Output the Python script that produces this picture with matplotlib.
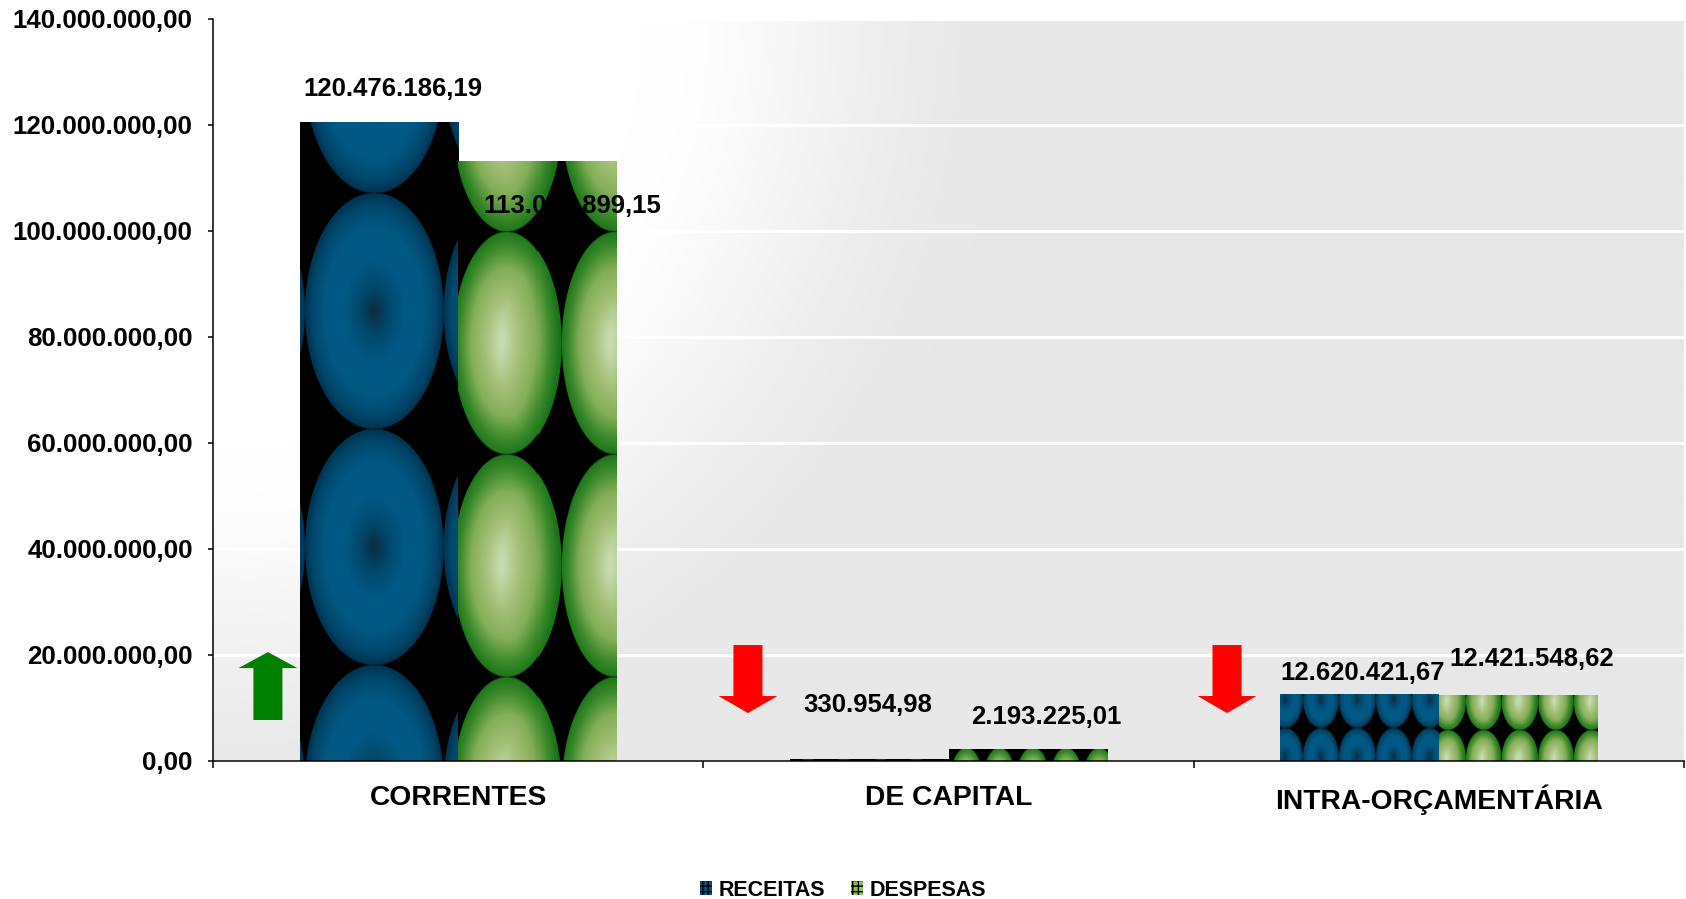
import numpy as np
import matplotlib
matplotlib.use('Agg')
import matplotlib.pyplot as plt
from matplotlib.patches import Polygon, Patch
from matplotlib.ticker import FuncFormatter

# ---------------- data ----------------
categories = ['CORRENTES', 'DE CAPITAL', 'INTRA-ORÇAMENTÁRIA']
series_names = ['RECEITAS', 'DESPESAS']
receitas = [120476186.19, 330954.98, 12620421.67]
despesas = [113048899.15, 2193225.01, 12421548.62]
yticks = [0, 20e6, 40e6, 60e6, 80e6, 100e6, 120e6, 140e6]


def fmt_br(v, pos=None):
    s = f"{v:,.2f}"
    return s.replace(',', 'X').replace('.', ',').replace('X', '.')


plt.rcParams['font.family'] = ['Liberation Sans', 'DejaVu Sans']
plt.rcParams['font.weight'] = 'bold'

W, H = 1686, 899
fig = plt.figure(figsize=(W / 100, H / 100), dpi=100)
ax_l, ax_r, ax_b, ax_t = 213, 1684, 761, 18.5
ax = fig.add_axes([ax_l / W, (H - ax_b) / H, (ax_r - ax_l) / W, (ax_b - ax_t) / H])
ax.set_xlim(-0.5, 2.5)
ax.set_ylim(0, 140e6)

# ------------- background gradient (white top-left -> light gray) -------------
aw, ah = int(ax_r - ax_l), int(ax_b - ax_t)
yy, xx = np.mgrid[0:ah, 0:aw]
d = np.hypot(xx, yy * 1.0)
t = np.clip((d - 430) / 360, 0, 1)
t = t * t * (3 - 2 * t)
g = 1 - t * (1 - 232 / 255)
bg = np.dstack([g, g, g])
ax.imshow(bg, extent=(0, 1, 0, 1), transform=ax.transAxes, origin='upper',
          aspect='auto', zorder=0, interpolation='bilinear')

# ---------------- bars ----------------
bw = 0.323
x = np.arange(len(categories))
bars_r = ax.bar(x - bw / 2, receitas, bw, color='black', linewidth=0, zorder=2)
bars_d = ax.bar(x + bw / 2, despesas, bw, color='black', linewidth=0, zorder=2)
ax.set_xlim(-0.5, 2.5)
ax.set_ylim(0, 140e6)

BLUE_STOPS = [0.0, 0.2, 0.45, 0.72, 0.9, 1.0]
BLUE_COLS = np.array([[0x0c, 0x2c, 0x40], [0x00, 0x48, 0x6c], [0x00, 0x5a, 0x86],
                      [0x00, 0x58, 0x83], [0x00, 0x46, 0x6a], [0x00, 0x32, 0x4e]]) / 255
GREEN_STOPS = [0.0, 0.18, 0.4, 0.65, 0.85, 1.0]
GREEN_COLS = np.array([[0xd8, 0xe8, 0xc8], [0xc0, 0xd6, 0xa6], [0xa4, 0xc0, 0x78],
                       [0x84, 0xae, 0x58], [0x3c, 0x8a, 0x2c], [0x1a, 0x72, 0x18]]) / 255


def texture(x0, x1, y0, y1, base, ox, oy, tw, th, kind):
    nx = max(int(round(x1 - x0)), 1)
    ny = max(int(round(y1 - y0)), 1)
    px = x0 + (np.arange(nx) + 0.5) * (x1 - x0) / nx
    py = y1 - (np.arange(ny) + 0.5) * (y1 - y0) / ny
    PX, PY = np.meshgrid(px, py)
    u = np.mod(PX - (x0 + ox), tw) / tw
    v = np.mod(PY - (base + oy), th) / th
    dx = (u - 0.5) * 2
    dy = (v - 0.5) * 2
    r = np.hypot(dx, dy)
    if kind == 'blue':
        rr = np.clip(r, 0, 1)
        stops, cols = BLUE_STOPS, BLUE_COLS
    else:
        rr = np.clip(np.hypot(dx + 0.22, dy - 0.03) / 1.18, 0, 1)
        rr = np.maximum(rr, r * 0.98)
        stops, cols = GREEN_STOPS, GREEN_COLS
    img = np.dstack([np.interp(rr, stops, cols[:, k]) for k in range(3)])
    edge = np.clip((1 - r) * min(tw, th) / 2 + 0.5, 0, 1)
    img *= edge[..., None]
    return img


# tile style: (offset x from bar left px, offset y from baseline px, tile w, tile h)
tile_r = [(5, 96, 138, 236), (0, 0, 36, 57), (23, 33, 36, 57)]
tile_d = [(-5, 84, 108, 222.5), (1, 13, 33, 66), (27, 31, 35.7, 57)]

for bars, tiles, kind in ((bars_r, tile_r, 'blue'), (bars_d, tile_d, 'green')):
    for b, (ox, oy, tw, th) in zip(bars, tiles):
        bx, bwid, bh = b.get_x(), b.get_width(), b.get_height()
        x0d, y0d = ax.transData.transform((bx, 0))
        x1d, y1d = ax.transData.transform((bx + bwid, bh))
        img = texture(x0d, x1d, y0d, y1d, y0d, ox, oy, tw, th, kind)
        im = ax.imshow(img, extent=(bx, bx + bwid, 0, bh), origin='upper',
                       aspect='auto', zorder=2.5, interpolation='nearest')
        im.set_clip_path(b)

ax.set_xlim(-0.5, 2.5)
ax.set_ylim(0, 140e6)

# ---------------- value labels ----------------
off_r = [(14, 35), (-2, 56), (3, 23)]
off_d = [(35, -43), (19, 34), (14, 38)]
for bars, vals, offs in ((bars_r, receitas, off_r), (bars_d, despesas, off_d)):
    for b, v, (dx, dy) in zip(bars, vals, offs):
        ax.annotate(fmt_br(v), (b.get_x() + b.get_width() / 2, b.get_height()),
                    xytext=(dx, dy - 9), textcoords='offset pixels',
                    ha='center', va='baseline', fontsize=18.5, fontweight='bold',
                    color='black', zorder=4)

# ---------------- arrows ----------------
def arrow(xc, y_tail, y_base, y_tip, color):
    sw, hw = 0.0296, 0.060
    pts = [(xc - sw, y_tail), (xc + sw, y_tail), (xc + sw, y_base), (xc + hw, y_base),
           (xc, y_tip), (xc - hw, y_base), (xc - sw, y_base)]
    ax.add_patch(Polygon(pts, closed=True, facecolor=color, edgecolor='none', zorder=3))


arrow(-0.388, 7.73e6, 17.52e6, 20.54e6, '#008000')
arrow(0.591, 21.86e6, 12.25e6, 9.04e6, '#ff0000')
arrow(1.568, 21.86e6, 12.25e6, 9.04e6, '#ff0000')

# ---------------- axes styling ----------------
ax.set_yticks(yticks)
ax.yaxis.set_major_formatter(FuncFormatter(fmt_br))
ax.yaxis.grid(True, color='white', linewidth=2.2)
ax.set_axisbelow(True)
for s in ('top', 'right'):
    ax.spines[s].set_visible(False)
for s in ('left', 'bottom'):
    ax.spines[s].set_color('black')
    ax.spines[s].set_linewidth(1.1)
ax.tick_params(axis='y', direction='out', length=3.6, width=1.1, labelsize=18.6, pad=11)
ax.set_xticks([-0.5, 0.5, 1.5, 2.5])
ax.set_xticklabels([])
ax.tick_params(axis='x', which='major', direction='out', length=5, width=1.1)
ax.set_xticks(x, minor=True)
ax.set_xticklabels(categories, minor=True)
ax.tick_params(axis='x', which='minor', length=0, pad=17, labelsize=20.3)
for lab in ax.get_yticklabels() + ax.get_xticklabels(minor=True):
    lab.set_fontweight('bold')

# ---------------- legend ----------------
handles = [Patch(facecolor='#00557f', edgecolor='black', hatch='+++', linewidth=0),
           Patch(facecolor='#8cc060', edgecolor='black', hatch='+++', linewidth=0)]
fig.legend(handles, series_names, loc='center', bbox_to_anchor=(0.5, 9 / H), ncol=2,
           frameon=False, prop={'size': 15.5, 'weight': 'bold'}, handlelength=0.55,
           handleheight=0.65, handletextpad=0.3, columnspacing=1.2, borderpad=0)

fig.savefig('out.png', dpi=100)
